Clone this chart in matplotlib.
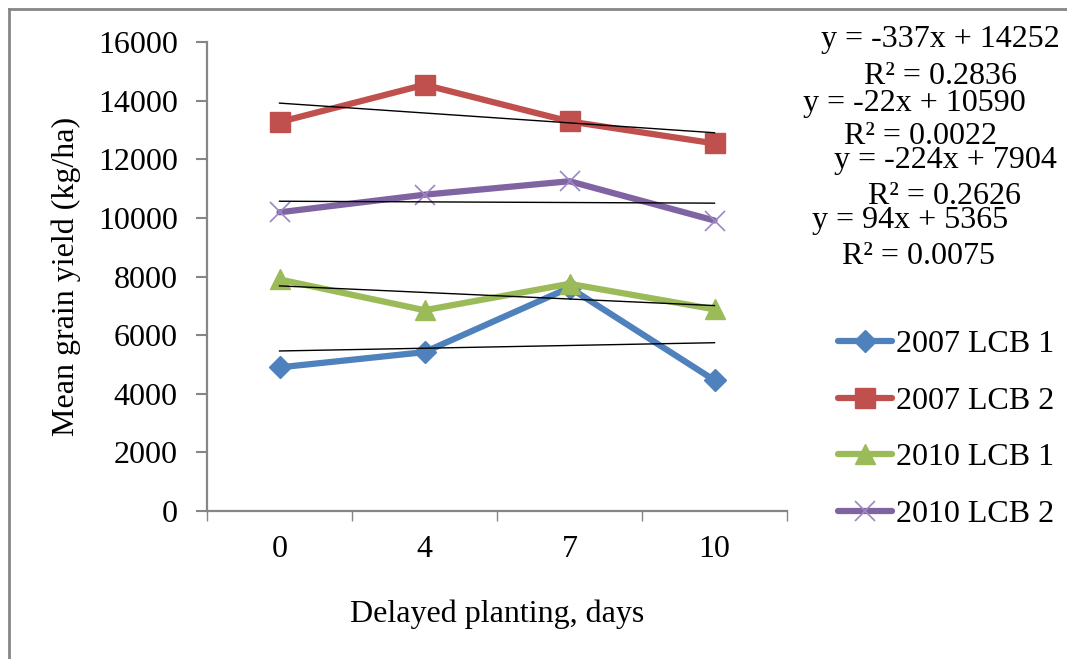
import numpy as np
import matplotlib
matplotlib.use("Agg")
import matplotlib.pyplot as plt
from matplotlib.lines import Line2D

plt.rcParams['font.family'] = ['Liberation Serif', 'DejaVu Serif']

# data
days = ['0', '4', '7', '10']
series_names = ['2007 LCB 1', '2007 LCB 2', '2010 LCB 1', '2010 LCB 2']
lcb1_2007 = [4900, 5420, 7620, 4460]
lcb2_2007 = [13270, 14540, 13290, 12540]
lcb1_2010 = [7900, 6850, 7750, 6880]
lcb2_2010 = [10190, 10790, 11250, 9910]

# linear trend equations shown on the chart (x = 1..4)
slopes = [94, -337, -224, -22]
intercepts = [5365, 14252, 7904, 10590]
r2_values = [0.0075, 0.2836, 0.2626, 0.0022]

colors = ['#4F81BD', '#C0504D', '#9BBB59', '#8064A2']
markers = ['D', 's', '^', 'x']
msizes = [11, 15, 15, 15]
FS = 23

W, H = 1067, 659
fig = plt.figure(figsize=(W / 100, H / 100), dpi=100)
ax = fig.add_axes([207 / W, 1 - 511 / H, 580 / W, 469 / H])

x = np.arange(len(days))
all_series = [lcb1_2007, lcb2_2007, lcb1_2010, lcb2_2010]
for ys, name, c, m, ms in zip(all_series, series_names, colors, markers, msizes):
    if m == 'x':
        ax.plot(x, ys, color=c, lw=4.5, marker=m, ms=ms, mew=1.2, mec='#9d86c4',
                label=name, solid_capstyle='round')
    else:
        ax.plot(x, ys, color=c, lw=4.5, marker=m, ms=ms, label=name,
                solid_capstyle='round')

# trendlines
for m_, b_ in zip(slopes, intercepts):
    xi = x + 1
    ax.plot(x, m_ * xi + b_, color='black', lw=1.0, zorder=3)

ax.set_xlim(-0.5, 3.5)
ax.set_ylim(0, 16000)
ax.set_yticks(np.arange(0, 16001, 2000))
ax.set_xticks(np.arange(-0.5, 3.6, 1.0))
ax.set_xticklabels([])
ax.set_xticks(x, minor=True)
ax.set_xticklabels(days, minor=True)
ax.tick_params(axis='x', which='minor', length=0, pad=17, labelsize=FS)
ax.tick_params(axis='x', which='major', length=7, width=1, color='#868686', direction='out')
ax.tick_params(axis='y', length=8, width=1.5, color='#868686', direction='out', labelsize=FS, pad=13)

for s in ['top', 'right']:
    ax.spines[s].set_visible(False)
for s in ['left', 'bottom']:
    ax.spines[s].set_color('#868686')
    ax.spines[s].set_linewidth(1.6)

ax.set_xlabel('Delayed planting, days', fontsize=FS, labelpad=26)
ax.set_ylabel('Mean grain yield (kg/ha)', fontsize=FS, labelpad=12)

leg = ax.legend(loc='upper left', bbox_to_anchor=(838 / W, 1 - 330 / H),
                bbox_transform=fig.transFigure, frameon=False, fontsize=FS,
                handlelength=1.7, handletextpad=0.12, labelspacing=0.85,
                borderpad=0, borderaxespad=0)

# equation labels (top to bottom as on the chart)
eq_pos = [(940, 40, 941, 76), (914, 103, 920, 137), (945, 161, 945, 196), (910, 220, 919, 257)]
order = [1, 3, 2, 0]
for (ex, ey, rx, ry), k in zip(eq_pos, order):
    sign = '-' if slopes[k] < 0 else ''
    fig.text(ex / W, 1 - ey / H, 'y = %s%dx + %d' % (sign, abs(slopes[k]), intercepts[k]),
             ha='center', va='center', fontsize=FS)
    fig.text(rx / W, 1 - ry / H, 'R² = %.4f' % r2_values[k],
             ha='center', va='center', fontsize=FS)

# chart area border (left and top visible)
fig.add_artist(Line2D([9 / W, 9 / W], [0, 1 - 9 / H], color='#868686', lw=2,
                      transform=fig.transFigure))
fig.add_artist(Line2D([9 / W, 1], [1 - 9 / H, 1 - 9 / H], color='#868686', lw=2,
                      transform=fig.transFigure))

fig.savefig('out.png', dpi=100)
